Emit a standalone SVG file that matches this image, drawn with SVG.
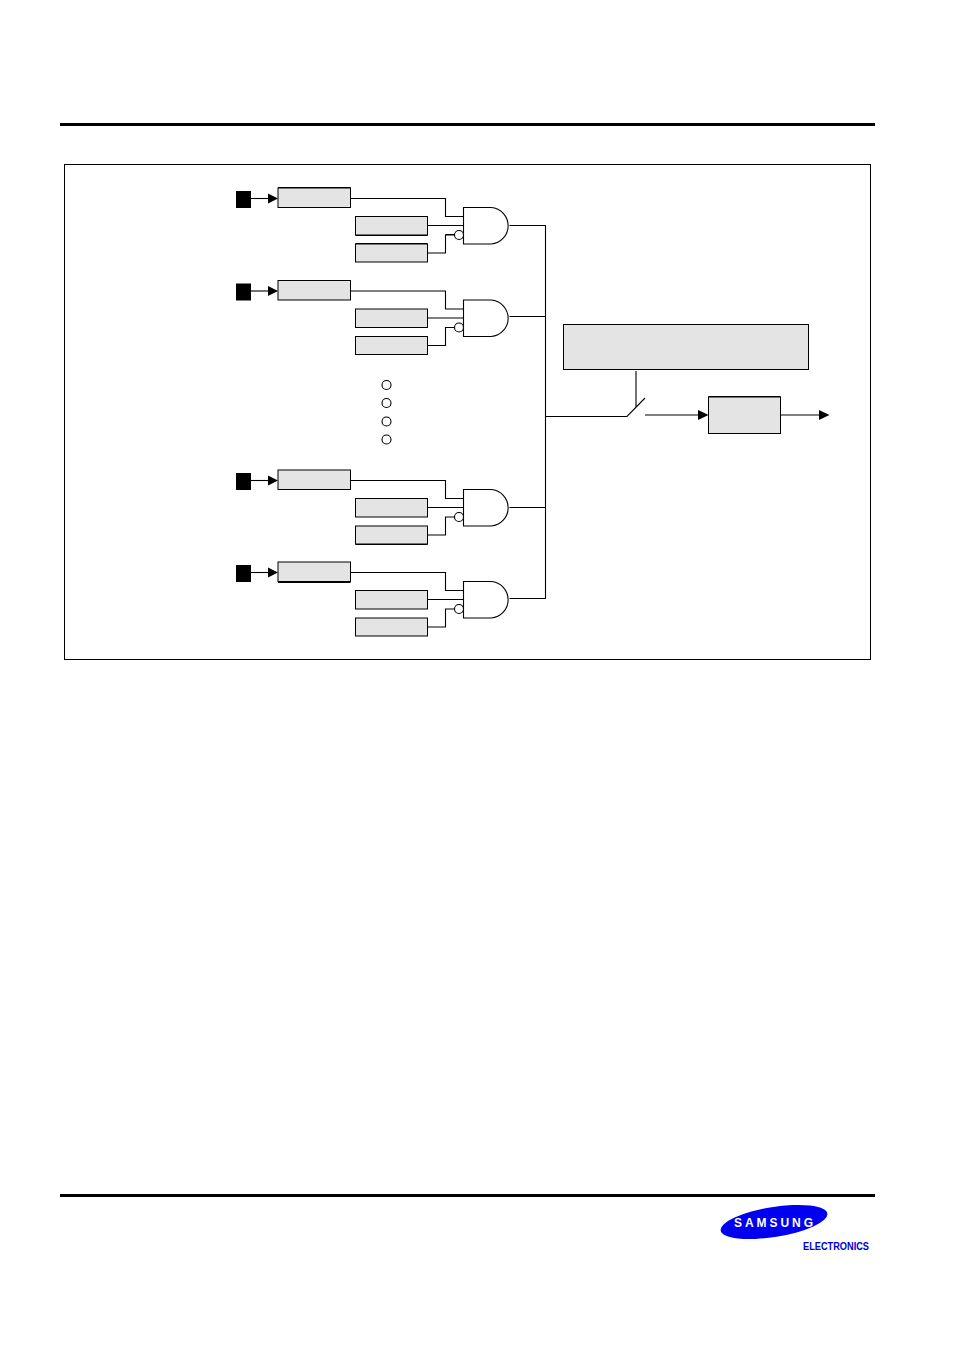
<svg xmlns="http://www.w3.org/2000/svg" width="954" height="1351" viewBox="0 0 954 1351">
<style>
.b{fill:#e4e4e4;stroke:#000;stroke-width:1}
.w{fill:none;stroke:#000;stroke-width:1.100}
.g{fill:#fff;stroke:#000;stroke-width:1.100}
.p{fill:#000;stroke:none}
.r{fill:#000;stroke:none}
</style>
<defs>
<g id="row">
<rect class="p" x="236" y="191" width="15" height="17"/>
<path class="w" d="M251 198.500H269"/>
<path class="p" d="M268 193.500L278 198.500L268 203.500Z"/>
<rect class="b" x="278" y="188" width="72.500" height="19.500"/>
<rect class="b" x="355.500" y="216.500" width="72" height="18.500"/>
<rect class="b" x="355.500" y="244" width="72" height="18"/>
<path class="w" d="M350.500 198.500H445.500V216.500H463.500M427.500 225.500H463.500M427.500 253H445.500V235H455"/>
<path class="g" d="M463.500 207.500H491.200A18.300 18.300 0 0 1 491.200 244H463.500Z"/>
<circle class="g" cx="459" cy="235" r="4.500"/>
</g>
</defs>
<rect id="top-rule" class="r" x="60" y="123" width="815" height="3"/>
<rect id="bottom-rule" class="r" x="60" y="1194" width="815" height="3"/>
<rect id="frame" x="64.500" y="164.500" width="806" height="495" fill="#fff" stroke="#000"/>
<g id="row1"><use href="#row"/></g>
<g id="row2"><use href="#row" y="92.500"/></g>
<g id="row3"><use href="#row" y="282"/></g>
<g id="row4"><use href="#row" y="374"/></g>
<g id="connectors">
<path class="w" d="M509.500 225.500H545.500V598.500H509.500M509.500 316.500H545.500M509.500 507.500H545.500M545.500 416.500H627L645 398M636 371V407M645 415H700M781 415H821"/>
<path class="p" d="M698 410L708.500 415L698 420Z"/>
<path class="p" d="M819 410L829.500 415L819 420Z"/>
</g>
<g id="dots">
<circle class="g" cx="386.500" cy="385" r="4.500"/>
<circle class="g" cx="386.500" cy="403" r="4.500"/>
<circle class="g" cx="386.500" cy="421.500" r="4.500"/>
<circle class="g" cx="386.500" cy="439.500" r="4.500"/>
</g>
<g id="control-box"><rect class="b" x="563.500" y="324.500" width="245" height="45"/></g>
<g id="output-box"><rect class="b" x="708.500" y="397" width="72" height="36.500"/></g>
<path id="heavy-edges" fill="none" stroke="#000" stroke-width="1" d="M278 187.500H350.500M355.500 235.500H427.500M355.500 243.500H427.500M445.500 234.500H455M355.500 544.500H427.500M278 582.500H350.500M355.500 590.500H427.500M445.500 590.500H463.500M708.500 396.500H780.500"/>
<g id="logo">
<ellipse cx="774" cy="1222" rx="54" ry="15" transform="rotate(-9 774 1222)" fill="#0000f0"/>
<text x="734" y="1227" font-family="Liberation Sans, sans-serif" font-weight="bold" font-size="12" fill="#fff" textLength="79" lengthAdjust="spacing">SAMSUNG</text>
<text x="803" y="1250" font-family="Liberation Sans, sans-serif" font-weight="bold" font-size="10" fill="#0000d0" textLength="66" lengthAdjust="spacingAndGlyphs">ELECTRONICS</text>
</g>
</svg>
